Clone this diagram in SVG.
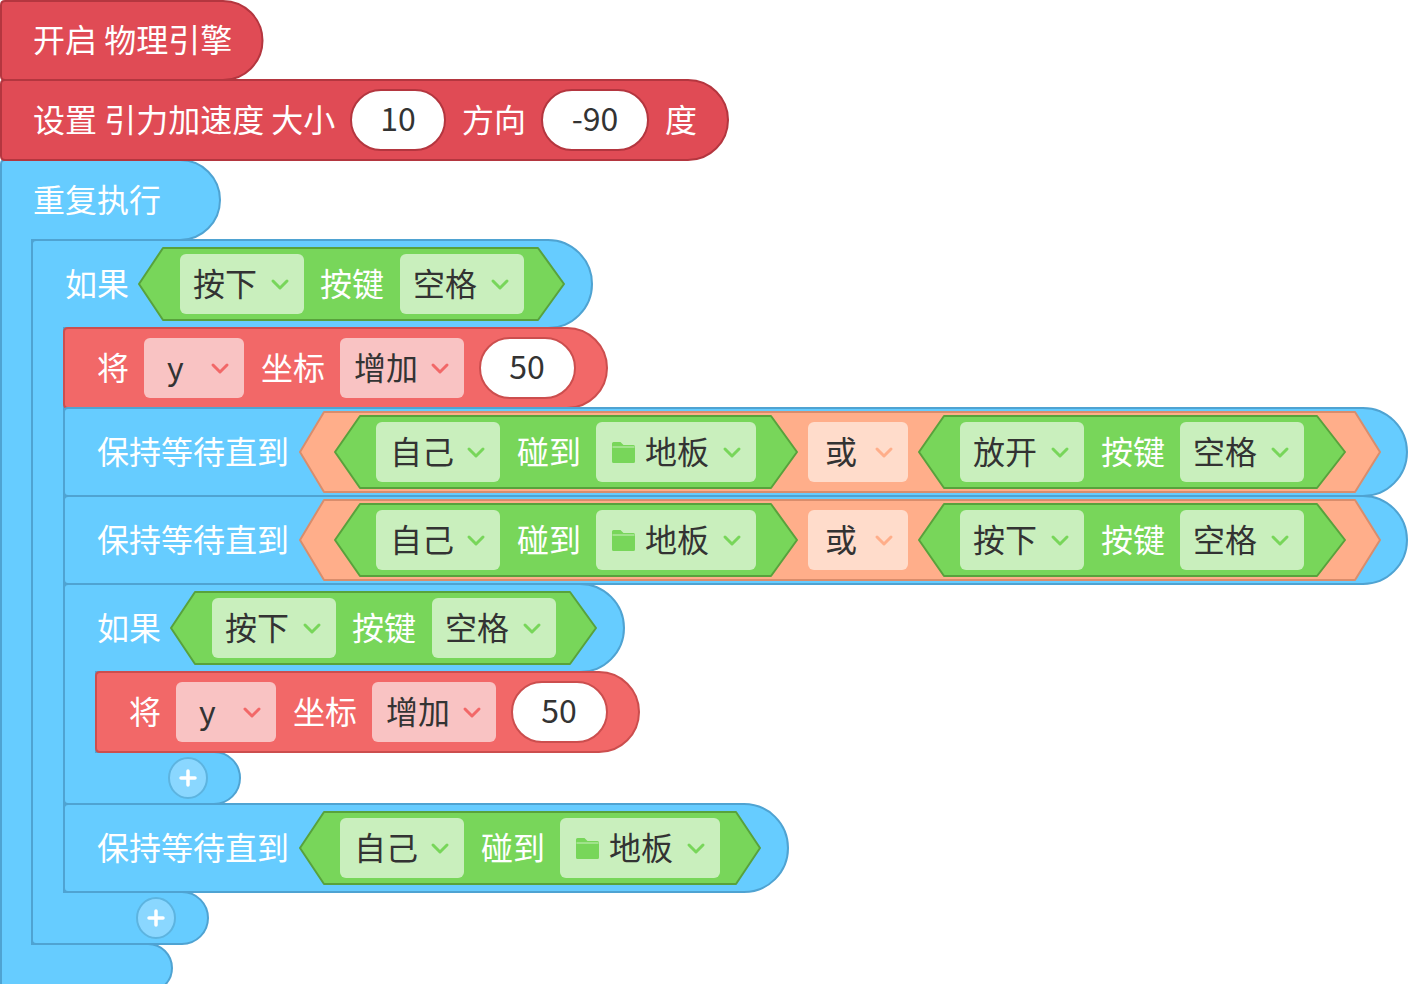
<svg xmlns="http://www.w3.org/2000/svg" width="1408" height="984" viewBox="0 0 1408 984">
<style>
text{font-family:"Noto Sans CJK SC","Noto Sans",sans-serif;font-size:32px}
.w{fill:#fff}
.d{fill:#333}
.num{fill:#333;text-anchor:middle}
.phys{fill:#E04B55;stroke:#B4363F;stroke-width:2}
.ctrl{fill:#66CCFF;stroke:#4FA3D2;stroke-width:2}
.mot{fill:#F26868;stroke:#CC4E4E;stroke-width:2}
.sens{fill:#78D65A;stroke:#58A23C;stroke-width:2;stroke-linejoin:round}
.op{fill:#FFAE8A;stroke:#D98D6C;stroke-width:2;stroke-linejoin:round}
.ddg{fill:#C9EFBD}
.ddr{fill:#F9C3C3}
.ddo{fill:#FFDCCB}
.pillr{fill:#fff;stroke:#B4363F;stroke-width:2}
.pillm{fill:#fff;stroke:#CC4E4E;stroke-width:2}
.cg{stroke:#78D65A}
.cr{stroke:#F26868}
.co{stroke:#FFAE8A}
.plusbtn{fill:#8AD7FF;stroke:#5DB4E0;stroke-width:2}
.fold{fill:#78D65A}
</style>
<defs>
<path id="chev" d="M-7,-4 L0,3 L7,-4" fill="none" stroke-width="3" stroke-linecap="round" stroke-linejoin="round"/>
<path id="plus" d="M-7,0 H7 M0,-7 V7" fill="none" stroke="#fff" stroke-width="3.5" stroke-linecap="round"/>
<g id="folder">
<path d="M0,1.5 Q0,0 1.5,0 H8.5 L11.5,3 H21.5 Q23,3 23,4.5 V19.5 Q23,21 21.5,21 H1.5 Q0,21 0,19.5 Z"/>
<path d="M0.5,5 H22.5" stroke="#C9EFBD" stroke-width="1" fill="none"/>
</g>
</defs>

<g id="repeat">
<path class="ctrl" d="M5,160 H180 A40 40 0 0 1 180 240 H32 V944 H148 A24 24 0 0 1 148 992 H1 V164 Q1,160 5,160 Z"/>
<text class="w" x="33" y="212">重复执行</text>
</g>

<g id="physics-start">
<path class="phys" d="M1,5 Q1,1 5,1 H223 A39.5 39.5 0 0 1 223 80 H5 Q1,80 1,76 Z"/>
<text class="w" x="33" y="52">开启 物理引擎</text>
</g>

<g id="physics-gravity">
<path class="phys" d="M1,84 Q1,80 5,80 H688 A40 40 0 0 1 688 160 H5 Q1,160 1,156 Z"/>
<text class="w" x="33" y="132">设置 引力加速度 大小</text>
<rect class="pillr" x="351" y="90" width="94" height="60" rx="30"/>
<text class="num" x="398" y="131">10</text>
<text class="w" x="462" y="132">方向</text>
<rect class="pillr" x="542" y="90" width="106" height="60" rx="30"/>
<text class="num" x="595" y="131">-90</text>
<text class="w" x="665" y="132">度</text>
</g>

<g id="if-outer">
<path class="ctrl" d="M36,240 H548 A44 44 0 0 1 548 328 H64 V892 H182 A26 26 0 0 1 182 944 H36 Q32,944 32,940 V244 Q32,240 36,240 Z"/>
<text class="w" x="65" y="296">如果</text>
<polygon class="sens" points="139,284 163,248 538,248 564,284 538,320 163,320"/>
<rect class="ddg" x="180" y="254" width="124" height="60" rx="6"/>
<text class="d" x="193" y="296">按下</text>
<use href="#chev" class="cg" x="280" y="285"/>
<text class="w" x="320" y="296">按键</text>
<rect class="ddg" x="400" y="254" width="124" height="60" rx="6"/>
<text class="d" x="413" y="296">空格</text>
<use href="#chev" class="cg" x="500" y="285"/>
<ellipse class="plusbtn" cx="156" cy="918" rx="19" ry="20"/>
<use href="#plus" x="156" y="918"/>
</g>

<g id="move-outer">
<path class="mot" d="M68,328 H567 A40 40 0 0 1 567 408 H68 Q64,408 64,404 V332 Q64,328 68,328 Z"/>
<text class="w" x="97" y="380">将</text>
<rect class="ddr" x="144" y="338" width="100" height="60" rx="6"/>
<text class="d" x="167" y="380">y</text>
<use href="#chev" class="cr" x="220" y="369"/>
<text class="w" x="261" y="380">坐标</text>
<rect class="ddr" x="340" y="338" width="124" height="60" rx="6"/>
<text class="d" x="354" y="380">增加</text>
<use href="#chev" class="cr" x="440" y="369"/>
<rect class="pillm" x="480" y="338" width="95" height="60" rx="30"/>
<text class="num" x="527" y="379">50</text>
</g>

<g id="wait-1">
<path class="ctrl" d="M68,408 H1363 A44 44 0 0 1 1363 496 H68 Q64,496 64,492 V412 Q64,408 68,408 Z"/>
<text class="w" x="97" y="464">保持等待直到</text>
<polygon class="op" points="300,452 324,412 1355,412 1380,452 1355,492 324,492"/>
<polygon class="sens" points="335,452 360,416 771,416 797,452 771,488 360,488"/>
<rect class="ddg" x="376" y="422" width="124" height="60" rx="6"/>
<text class="d" x="390" y="464">自己</text>
<use href="#chev" class="cg" x="476" y="453"/>
<text class="w" x="517" y="464">碰到</text>
<rect class="ddg" x="596" y="422" width="160" height="60" rx="6"/>
<use href="#folder" class="fold" x="612" y="442"/>
<text class="d" x="645" y="464">地板</text>
<use href="#chev" class="cg" x="732" y="453"/>
<rect class="ddo" x="808" y="422" width="100" height="60" rx="6"/>
<text class="d" x="825" y="464">或</text>
<use href="#chev" class="co" x="884" y="453"/>
<polygon class="sens" points="919,452 944,416 1317,416 1345,452 1317,488 944,488"/>
<rect class="ddg" x="960" y="422" width="124" height="60" rx="6"/>
<text class="d" x="973" y="464">放开</text>
<use href="#chev" class="cg" x="1060" y="453"/>
<text class="w" x="1101" y="464">按键</text>
<rect class="ddg" x="1180" y="422" width="124" height="60" rx="6"/>
<text class="d" x="1193" y="464">空格</text>
<use href="#chev" class="cg" x="1280" y="453"/>
</g>

<g id="wait-2" transform="translate(0,88)">
<path class="ctrl" d="M68,408 H1363 A44 44 0 0 1 1363 496 H68 Q64,496 64,492 V412 Q64,408 68,408 Z"/>
<text class="w" x="97" y="464">保持等待直到</text>
<polygon class="op" points="300,452 324,412 1355,412 1380,452 1355,492 324,492"/>
<polygon class="sens" points="335,452 360,416 771,416 797,452 771,488 360,488"/>
<rect class="ddg" x="376" y="422" width="124" height="60" rx="6"/>
<text class="d" x="390" y="464">自己</text>
<use href="#chev" class="cg" x="476" y="453"/>
<text class="w" x="517" y="464">碰到</text>
<rect class="ddg" x="596" y="422" width="160" height="60" rx="6"/>
<use href="#folder" class="fold" x="612" y="442"/>
<text class="d" x="645" y="464">地板</text>
<use href="#chev" class="cg" x="732" y="453"/>
<rect class="ddo" x="808" y="422" width="100" height="60" rx="6"/>
<text class="d" x="825" y="464">或</text>
<use href="#chev" class="co" x="884" y="453"/>
<polygon class="sens" points="919,452 944,416 1317,416 1345,452 1317,488 944,488"/>
<rect class="ddg" x="960" y="422" width="124" height="60" rx="6"/>
<text class="d" x="973" y="464">按下</text>
<use href="#chev" class="cg" x="1060" y="453"/>
<text class="w" x="1101" y="464">按键</text>
<rect class="ddg" x="1180" y="422" width="124" height="60" rx="6"/>
<text class="d" x="1193" y="464">空格</text>
<use href="#chev" class="cg" x="1280" y="453"/>
</g>

<g id="if-inner">
<path class="ctrl" d="M68,584 H580 A44 44 0 0 1 580 672 H96 V752 H214 A26 26 0 0 1 214 804 H68 Q64,804 64,800 V588 Q64,584 68,584 Z"/>
<g transform="translate(32,344)">
<text class="w" x="65" y="296">如果</text>
<polygon class="sens" points="139,284 163,248 538,248 564,284 538,320 163,320"/>
<rect class="ddg" x="180" y="254" width="124" height="60" rx="6"/>
<text class="d" x="193" y="296">按下</text>
<use href="#chev" class="cg" x="280" y="285"/>
<text class="w" x="320" y="296">按键</text>
<rect class="ddg" x="400" y="254" width="124" height="60" rx="6"/>
<text class="d" x="413" y="296">空格</text>
<use href="#chev" class="cg" x="500" y="285"/>
</g>
<ellipse class="plusbtn" cx="188" cy="778" rx="19" ry="20"/>
<use href="#plus" x="188" y="778"/>
</g>

<g id="move-inner" transform="translate(32,344)">
<path class="mot" d="M68,328 H567 A40 40 0 0 1 567 408 H68 Q64,408 64,404 V332 Q64,328 68,328 Z"/>
<text class="w" x="97" y="380">将</text>
<rect class="ddr" x="144" y="338" width="100" height="60" rx="6"/>
<text class="d" x="167" y="380">y</text>
<use href="#chev" class="cr" x="220" y="369"/>
<text class="w" x="261" y="380">坐标</text>
<rect class="ddr" x="340" y="338" width="124" height="60" rx="6"/>
<text class="d" x="354" y="380">增加</text>
<use href="#chev" class="cr" x="440" y="369"/>
<rect class="pillm" x="480" y="338" width="95" height="60" rx="30"/>
<text class="num" x="527" y="379">50</text>
</g>

<g id="wait-3">
<path class="ctrl" d="M68,804 H744 A44 44 0 0 1 744 892 H68 Q64,892 64,888 V808 Q64,804 68,804 Z"/>
<text class="w" x="97" y="860">保持等待直到</text>
<polygon class="sens" points="300,848 324,812 736,812 760,848 736,884 324,884"/>
<rect class="ddg" x="340" y="818" width="124" height="60" rx="6"/>
<text class="d" x="354" y="860">自己</text>
<use href="#chev" class="cg" x="440" y="849"/>
<text class="w" x="481" y="860">碰到</text>
<rect class="ddg" x="560" y="818" width="160" height="60" rx="6"/>
<use href="#folder" class="fold" x="576" y="838"/>
<text class="d" x="609" y="860">地板</text>
<use href="#chev" class="cg" x="696" y="849"/>
</g>
</svg>
